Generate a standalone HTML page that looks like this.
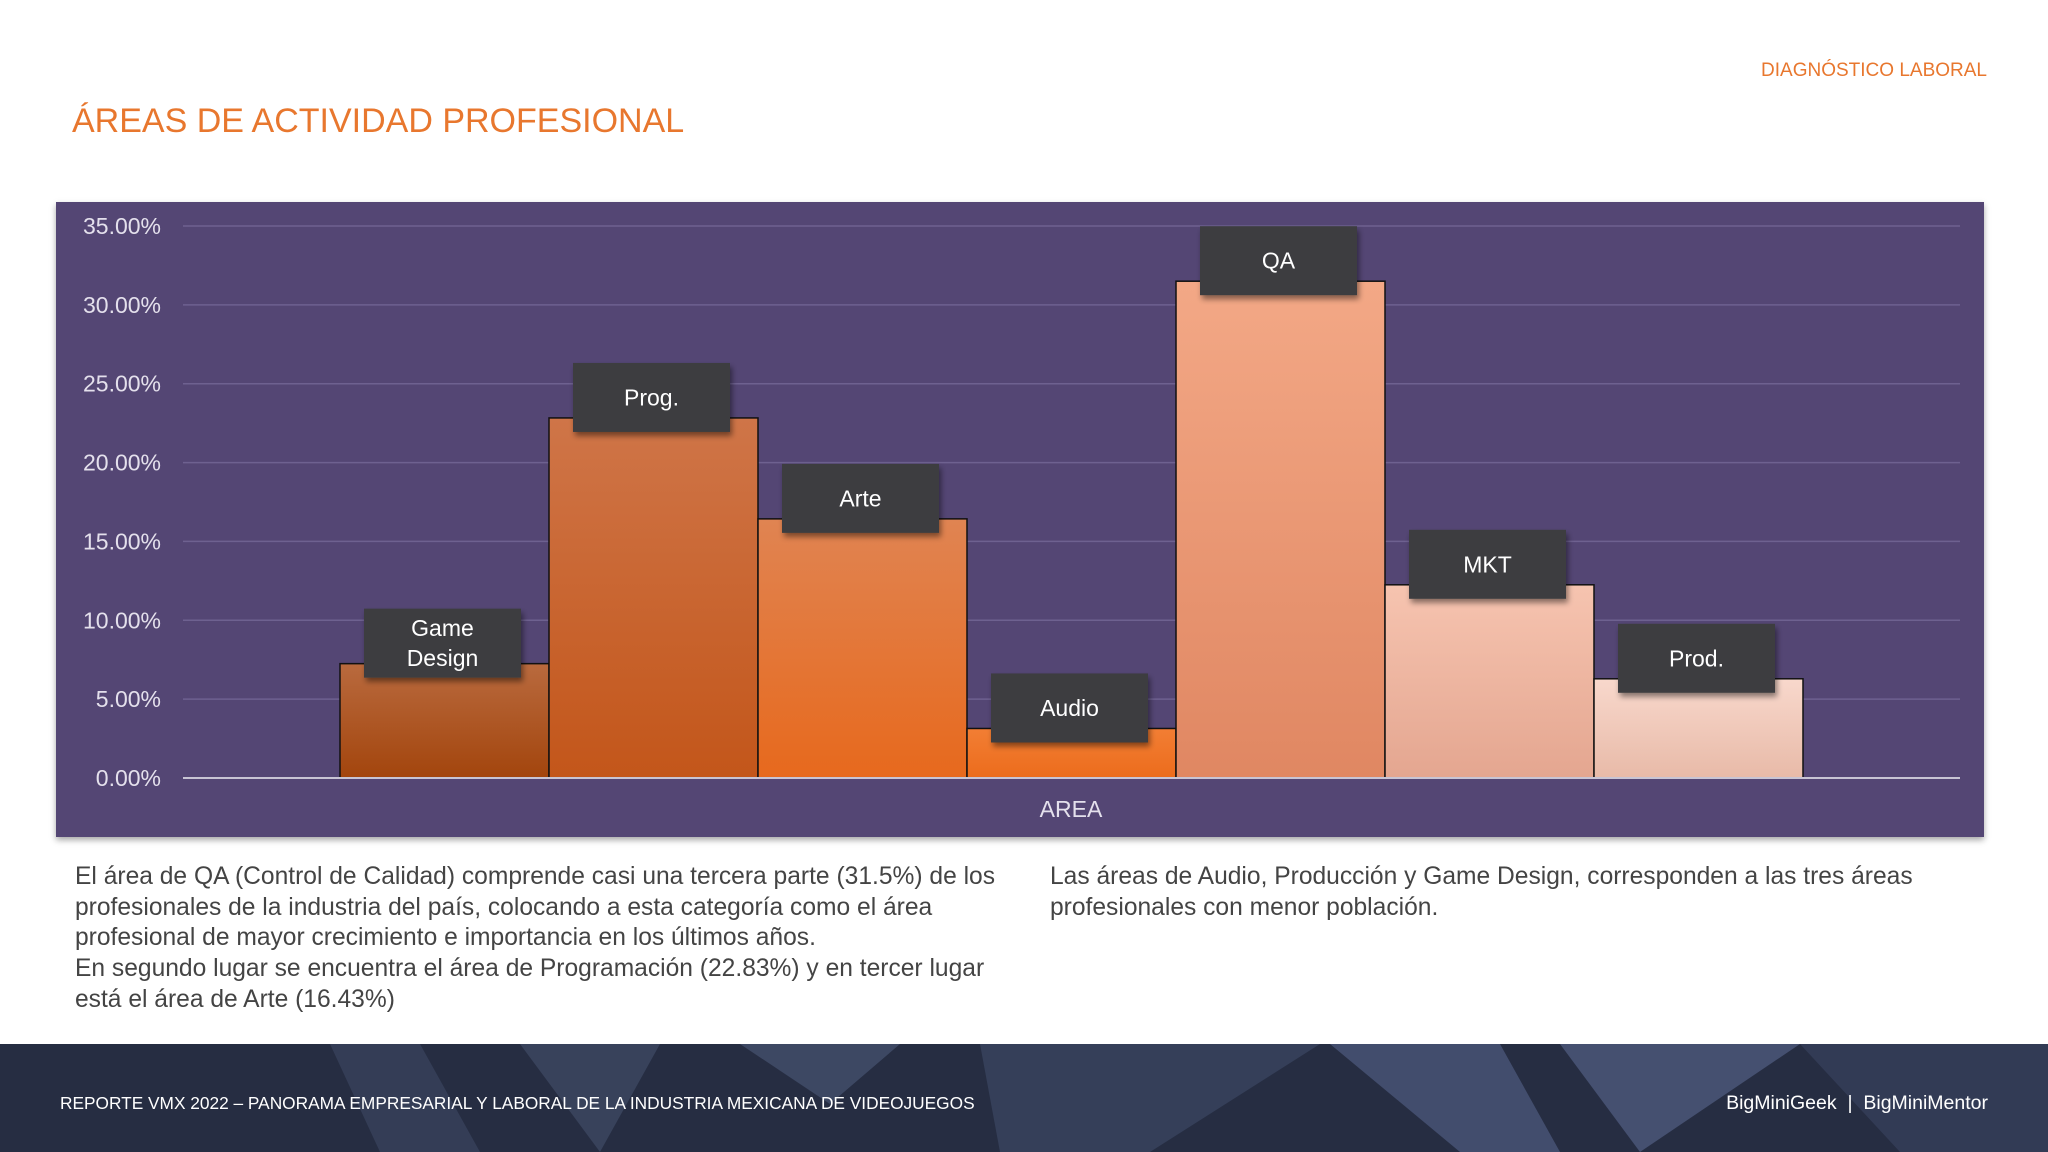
<!DOCTYPE html>
<html><head><meta charset="utf-8">
<style>
html,body{margin:0;padding:0;}
body{width:2048px;height:1152px;position:relative;background:#fff;overflow:hidden;font-family:"Liberation Sans",sans-serif;}
.title{position:absolute;left:72px;top:102px;font-size:34px;color:#e8772e;}
.section{position:absolute;right:61px;top:60px;font-size:19px;color:#e8772e;}
.panel{position:absolute;left:56px;top:202px;width:1928px;height:635px;background:#544674;box-shadow:0 3px 6px rgba(0,0,0,0.35);}
.para{position:absolute;font-size:24.6px;line-height:30.7px;color:#444;}
.footer{position:absolute;left:0;top:1044px;width:2048px;height:108px;background:#262d42;overflow:hidden;}
.ftext{position:absolute;color:#fff;font-size:17.3px;}
</style></head>
<body>
<div class="section">DIAGNÓSTICO LABORAL</div>
<div class="title">ÁREAS DE ACTIVIDAD PROFESIONAL</div>
<div class="panel"></div>
<svg id="chart" width="2048" height="1152" style="position:absolute;left:0;top:0;">
<defs>
<filter id="sh" x="-10%" y="-10%" width="130%" height="140%"><feDropShadow dx="2" dy="4" stdDeviation="3" flood-color="#000" flood-opacity="0.45"/></filter>
</defs>
</svg>
<div class="para" style="left:75px;top:862px;width:945px;">El área de QA (Control de Calidad) comprende casi una tercera parte (31.5%) de los profesionales de la industria del país, colocando a esta categoría como el área profesional de mayor crecimiento e importancia en los últimos años.<br>En segundo lugar se encuentra el área de Programación (22.83%) y en tercer lugar está el área de Arte (16.43%)</div>
<div class="para" style="left:1050px;top:862px;width:920px;">Las áreas de Audio, Producción y Game Design, corresponden a las tres áreas profesionales con menor población.</div>
<div class="footer">
<svg width="2048" height="108" style="position:absolute;left:0;top:0">
<polygon points="330,0 420,0 480,108 380,108" fill="#3a4560" opacity="0.7"/>
<polygon points="520,0 660,0 600,108" fill="#44506c" opacity="0.6"/>
<polygon points="740,0 900,0 830,60" fill="#4d5a7a" opacity="0.6"/>
<polygon points="980,0 1320,0 1150,108 1000,108" fill="#3c4764" opacity="0.7"/>
<polygon points="1330,0 1500,0 1560,108 1460,108" fill="#55628a" opacity="0.6"/>
<polygon points="1560,0 1800,0 1640,108" fill="#5a6890" opacity="0.6"/>
<polygon points="1800,0 2048,0 2048,108 1900,108" fill="#3a4562" opacity="0.6"/>
</svg>
<div class="ftext" style="left:60px;top:49px;">REPORTE VMX 2022 – PANORAMA EMPRESARIAL Y LABORAL DE LA INDUSTRIA MEXICANA DE VIDEOJUEGOS</div>
<div class="ftext" style="right:60px;top:48px;font-size:19.5px;">BigMiniGeek &nbsp;|&nbsp; BigMiniMentor</div>
</div>
<script>
const categories = ["Game\nDesign","Prog.","Arte","Audio","QA","MKT","Prod."];
const values = [7.25, 22.83, 16.43, 3.14, 31.5, 12.25, 6.29];
const tickValues = [0,5,10,15,20,25,30,35];
const tickLabels = ["0.00%","5.00%","10.00%","15.00%","20.00%","25.00%","30.00%","35.00%"];
const topColors = ["#b96a3e","#cf7548","#e08452","#f27e34","#f3a886","#f6c4b0","#f8d8cc"];
const botColors = ["#a3450d","#c3561a","#e7691d","#ec6c1c","#e08762","#e4a690","#e8baa8"];

const svg = document.getElementById('chart');
const NS = 'http://www.w3.org/2000/svg';
const y0 = 778, pxPer = (778-226)/35;
const yScale = v => y0 - v*pxPer;
const bandStart = 340, band = 209;
const xScale = i => bandStart + i*band;
function mk(tag, attrs){const e=document.createElementNS(NS,tag);for(const k in attrs)e.setAttribute(k,attrs[k]);svg.appendChild(e);return e;}

const defs = svg.querySelector('defs');
categories.forEach((c,i)=>{
  const g=document.createElementNS(NS,'linearGradient');
  g.setAttribute('id','g'+i);g.setAttribute('x1','0');g.setAttribute('y1','0');g.setAttribute('x2','0');g.setAttribute('y2','1');
  const s1=document.createElementNS(NS,'stop');s1.setAttribute('offset','0');s1.setAttribute('stop-color',topColors[i]);
  const s2=document.createElementNS(NS,'stop');s2.setAttribute('offset','1');s2.setAttribute('stop-color',botColors[i]);
  g.appendChild(s1);g.appendChild(s2);defs.appendChild(g);
});

tickValues.forEach((t,i)=>{
  const y=yScale(t);
  if(t>0){
    const l=mk('line',{x1:183,x2:1960,y1:y,y2:y,stroke:'#6e6190','stroke-width':1.5});
    
    
  }
  const tx=mk('text',{x:161,y:y+8,'text-anchor':'end','font-size':23,fill:'#e4e0ec','font-family':'Liberation Sans, sans-serif'});
  tx.textContent=tickLabels[i];
  
  
});

values.forEach((v,i)=>{
  const x=xScale(i), y=yScale(v);
  const r=mk('rect',{x:x,y:y,width:band,height:y0-y,fill:'url(#g'+i+')',stroke:'#111','stroke-width':1.5});
  
  
});

const ax=mk('line',{x1:183,x2:1960,y1:y0,y2:y0,stroke:'#c8c4d4','stroke-width':2});



values.forEach((v,i)=>{
  const cx=xScale(i)+band/2-2, y=yScale(v);
  const bw=157,bh=69;
  const b=mk('rect',{x:cx-bw/2,y:y-55,width:bw,height:bh,fill:'#3d3d3f',filter:'url(#sh)'});
  
  
  const lines=categories[i].split('\n');
  lines.forEach((ln,k)=>{
    const ty=y-55+bh/2+8+(k-(lines.length-1)/2)*30;
    const t=mk('text',{x:cx,y:ty,'text-anchor':'middle','font-size':23,fill:'#fff','font-family':'Liberation Sans, sans-serif'});
    t.textContent=ln;
    
    
  });
});

const at=mk('text',{x:1071,y:817,'text-anchor':'middle','font-size':23,fill:'#e4e0ec','font-family':'Liberation Sans, sans-serif'});
at.textContent='AREA';


</script>
</body></html>
